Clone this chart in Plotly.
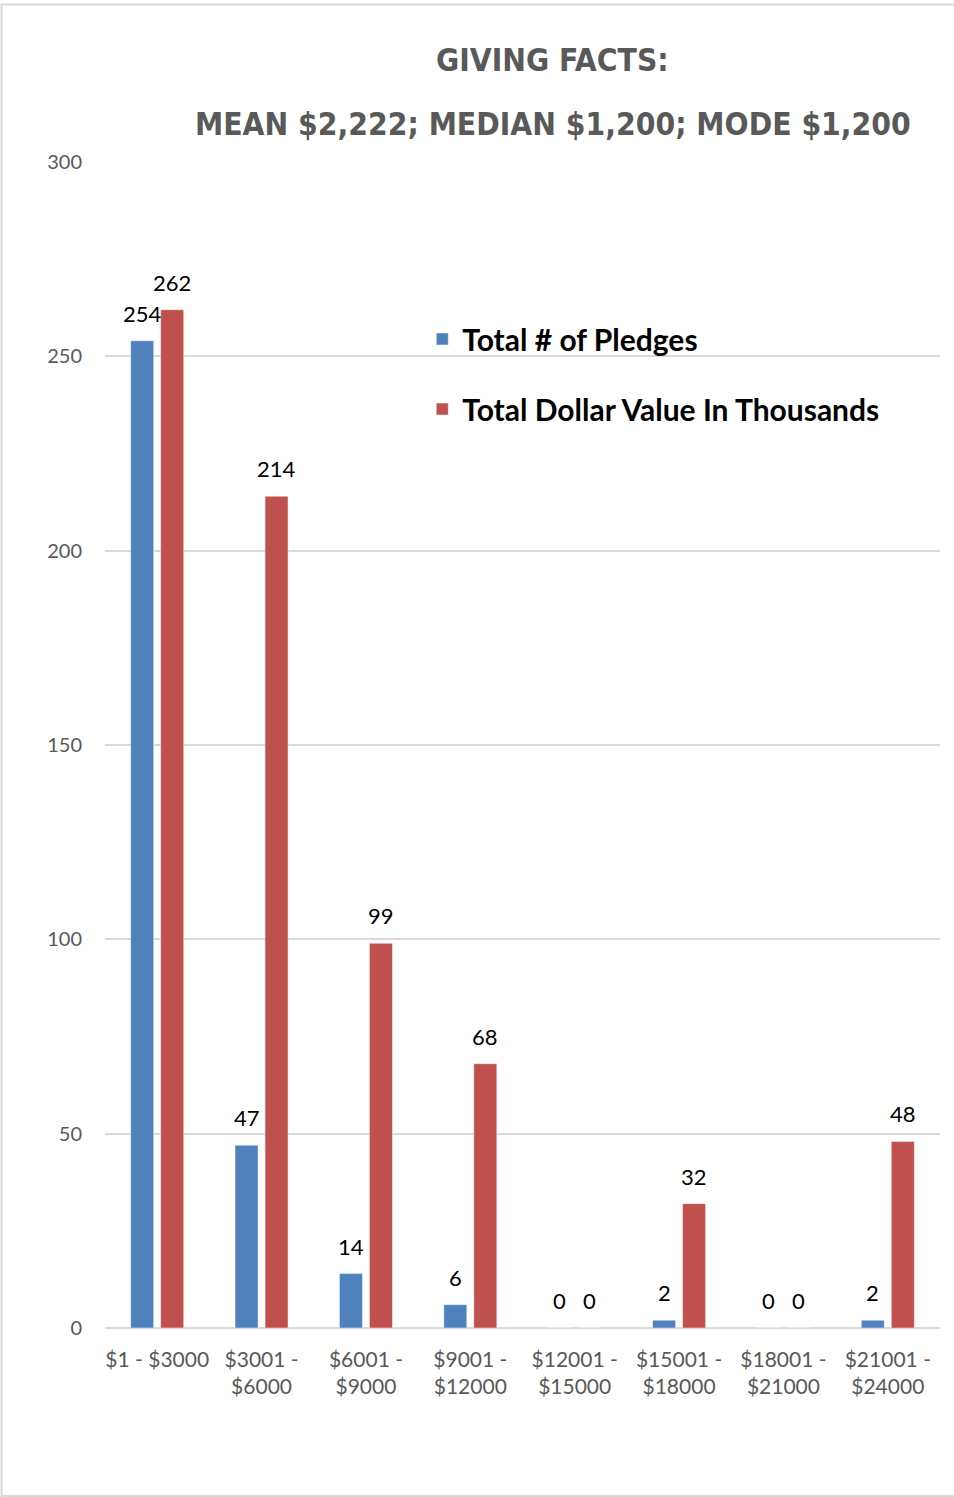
import plotly.graph_objects as go

categories = ["$1 - $3000", "$3001 -<br>$6000", "$6001 -<br>$9000", "$9001 -<br>$12000",
              "$12001 -<br>$15000", "$15001 -<br>$18000", "$18001 -<br>$21000", "$21001 -<br>$24000"]
pledges = [254, 47, 14, 6, 0, 2, 0, 2]
dollars_thousands = [262, 214, 99, 68, 0, 32, 0, 48]
series_names = ["Total # of Pledges", "Total Dollar Value In Thousands"]
y_ticks = [0, 50, 100, 150, 200, 250, 300]
title_lines = ["GIVING FACTS:", "MEAN $2,222; MEDIAN $1,200; MODE $1,200"]

BLUE = "#4F81BD"
RED = "#C0504D"
GRAY = "#595959"
GRID = "#D9D9D9"
FONT = "Lato, Open Sans, sans-serif"
TITLE_FONT = "DejaVu Sans Condensed, sans-serif"

fig = go.Figure()
for name, vals, col, grp in [(series_names[0], pledges, BLUE, "a"),
                             (series_names[1], dollars_thousands, RED, "b")]:
    fig.add_trace(go.Bar(
        x=categories, y=vals, name=name, legendgroup=grp,
        marker=dict(color=col, line=dict(color="rgba(255,255,255,0.45)", width=1)),
        hoverinfo="x+y+name",
    ))

# data labels
for vals, shift in [(pledges, -15), (dollars_thousands, 15)]:
    for c, v in zip(categories, vals):
        fig.add_annotation(x=c, y=v, text=str(v), showarrow=False,
                           xanchor="center", yanchor="bottom", xshift=shift, yshift=12,
                           font=dict(family=FONT, size=22, color="#000000"))

# title (two lines)
for line, ypos in zip(title_lines, [(1328 - 60) / 1166, (1328 - 124) / 1166]):
    fig.add_annotation(
        xref="paper", yref="paper", x=0.5365, y=ypos, yanchor="middle", xanchor="center",
        text=line, showarrow=False,
        font=dict(family=TITLE_FONT, size=31.5, color=GRAY, weight="bold"),
    )

# outer border
fig.add_shape(type="rect", xref="paper", yref="paper",
              x0=(1.5 - 105) / 835, x1=(960 - 105) / 835,
              y0=(1328 - 1496) / 1166, y1=(1328 - 4.5) / 1166,
              line=dict(color="#D9D9D9", width=2), fillcolor="rgba(0,0,0,0)", layer="below")

fig.update_layout(
    width=954, height=1497,
    margin=dict(l=105, r=14, t=162, b=169),
    paper_bgcolor="white", plot_bgcolor="white",
    barmode="group", bargap=0.425, bargroupgap=0.233,
    font=dict(family=FONT, color=GRAY),
    showlegend=True,
    legend=dict(x=0.380, y=0.8705, xanchor="left", yanchor="top",
                font=dict(family=FONT, size=30, color="#000000", weight="bold"),
                bgcolor="rgba(0,0,0,0)", tracegroupgap=28, traceorder="grouped"),
    xaxis=dict(type="category", showgrid=False, showline=False, ticks="",
               tickfont=dict(family=FONT, size=21, color=GRAY), ticklabelstandoff=17),
    yaxis=dict(range=[0, 300], tickvals=y_ticks, showgrid=True, gridcolor=GRID, gridwidth=1.5,
               zeroline=True, zerolinecolor=GRID, zerolinewidth=1.5, showline=False, ticks="",
               tickfont=dict(family=FONT, size=20, color=GRAY), ticklabelstandoff=22),
)

fig.write_html("out.html")
